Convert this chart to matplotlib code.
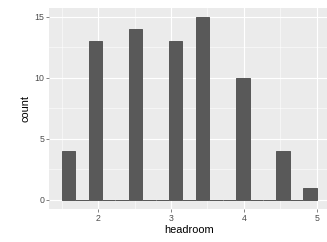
import numpy as np
import matplotlib
matplotlib.use("Agg")
import matplotlib.pyplot as plt

# headroom values and how many cars have each
headroom = [1.5, 2.0, 2.5, 3.0, 3.5, 4.0, 4.5, 5.0]
counts = [4, 13, 14, 13, 15, 10, 4, 1]
x_ticks = [2, 3, 4, 5]
y_ticks = [0, 5, 10, 15]

plt.rcParams['font.family'] = ['Liberation Sans', 'DejaVu Sans']

DPI = 72
fig = plt.figure(figsize=(327 / DPI, 242 / DPI), dpi=DPI)
W, H = 327, 242
left, right, top, bottom = 49, 329.4, 7.5, 209
ax = fig.add_axes([left / W, 1 - bottom / H, (right - left) / W, (bottom - top) / H])

ax.set_facecolor('#EBEBEB')
edges = np.linspace(1.5, 5.0, 20)
# edge line makes the empty bins show as a dark line at zero, as in ggplot
ax.hist(headroom, bins=edges, weights=counts, color='#595959',
        edgecolor='#595959', linewidth=1.0, zorder=3)

ax.set_xlim(1.325, 5.175)
ax.set_ylim(-0.75, 15.75)
ax.set_xticks(x_ticks)
ax.set_xticks([1.5, 2.5, 3.5, 4.5], minor=True)
ax.set_yticks(y_ticks)
ax.set_yticks([2.5, 7.5, 12.5], minor=True)
ax.grid(which='major', color='white', linewidth=1.1, zorder=0)
ax.grid(which='minor', color='white', linewidth=0.55, zorder=0)
ax.set_axisbelow(True)
for s in ax.spines.values():
    s.set_visible(False)

ax.tick_params(which='major', length=2.75, width=0.6, color='#333333',
               labelsize=8.8, labelcolor='#4D4D4D', pad=2)
ax.tick_params(which='minor', length=0)

ax.set_xlabel('headroom', fontsize=11, labelpad=2)
ax.set_ylabel('count', fontsize=11, labelpad=4)

fig.savefig('out.png', dpi=DPI)
